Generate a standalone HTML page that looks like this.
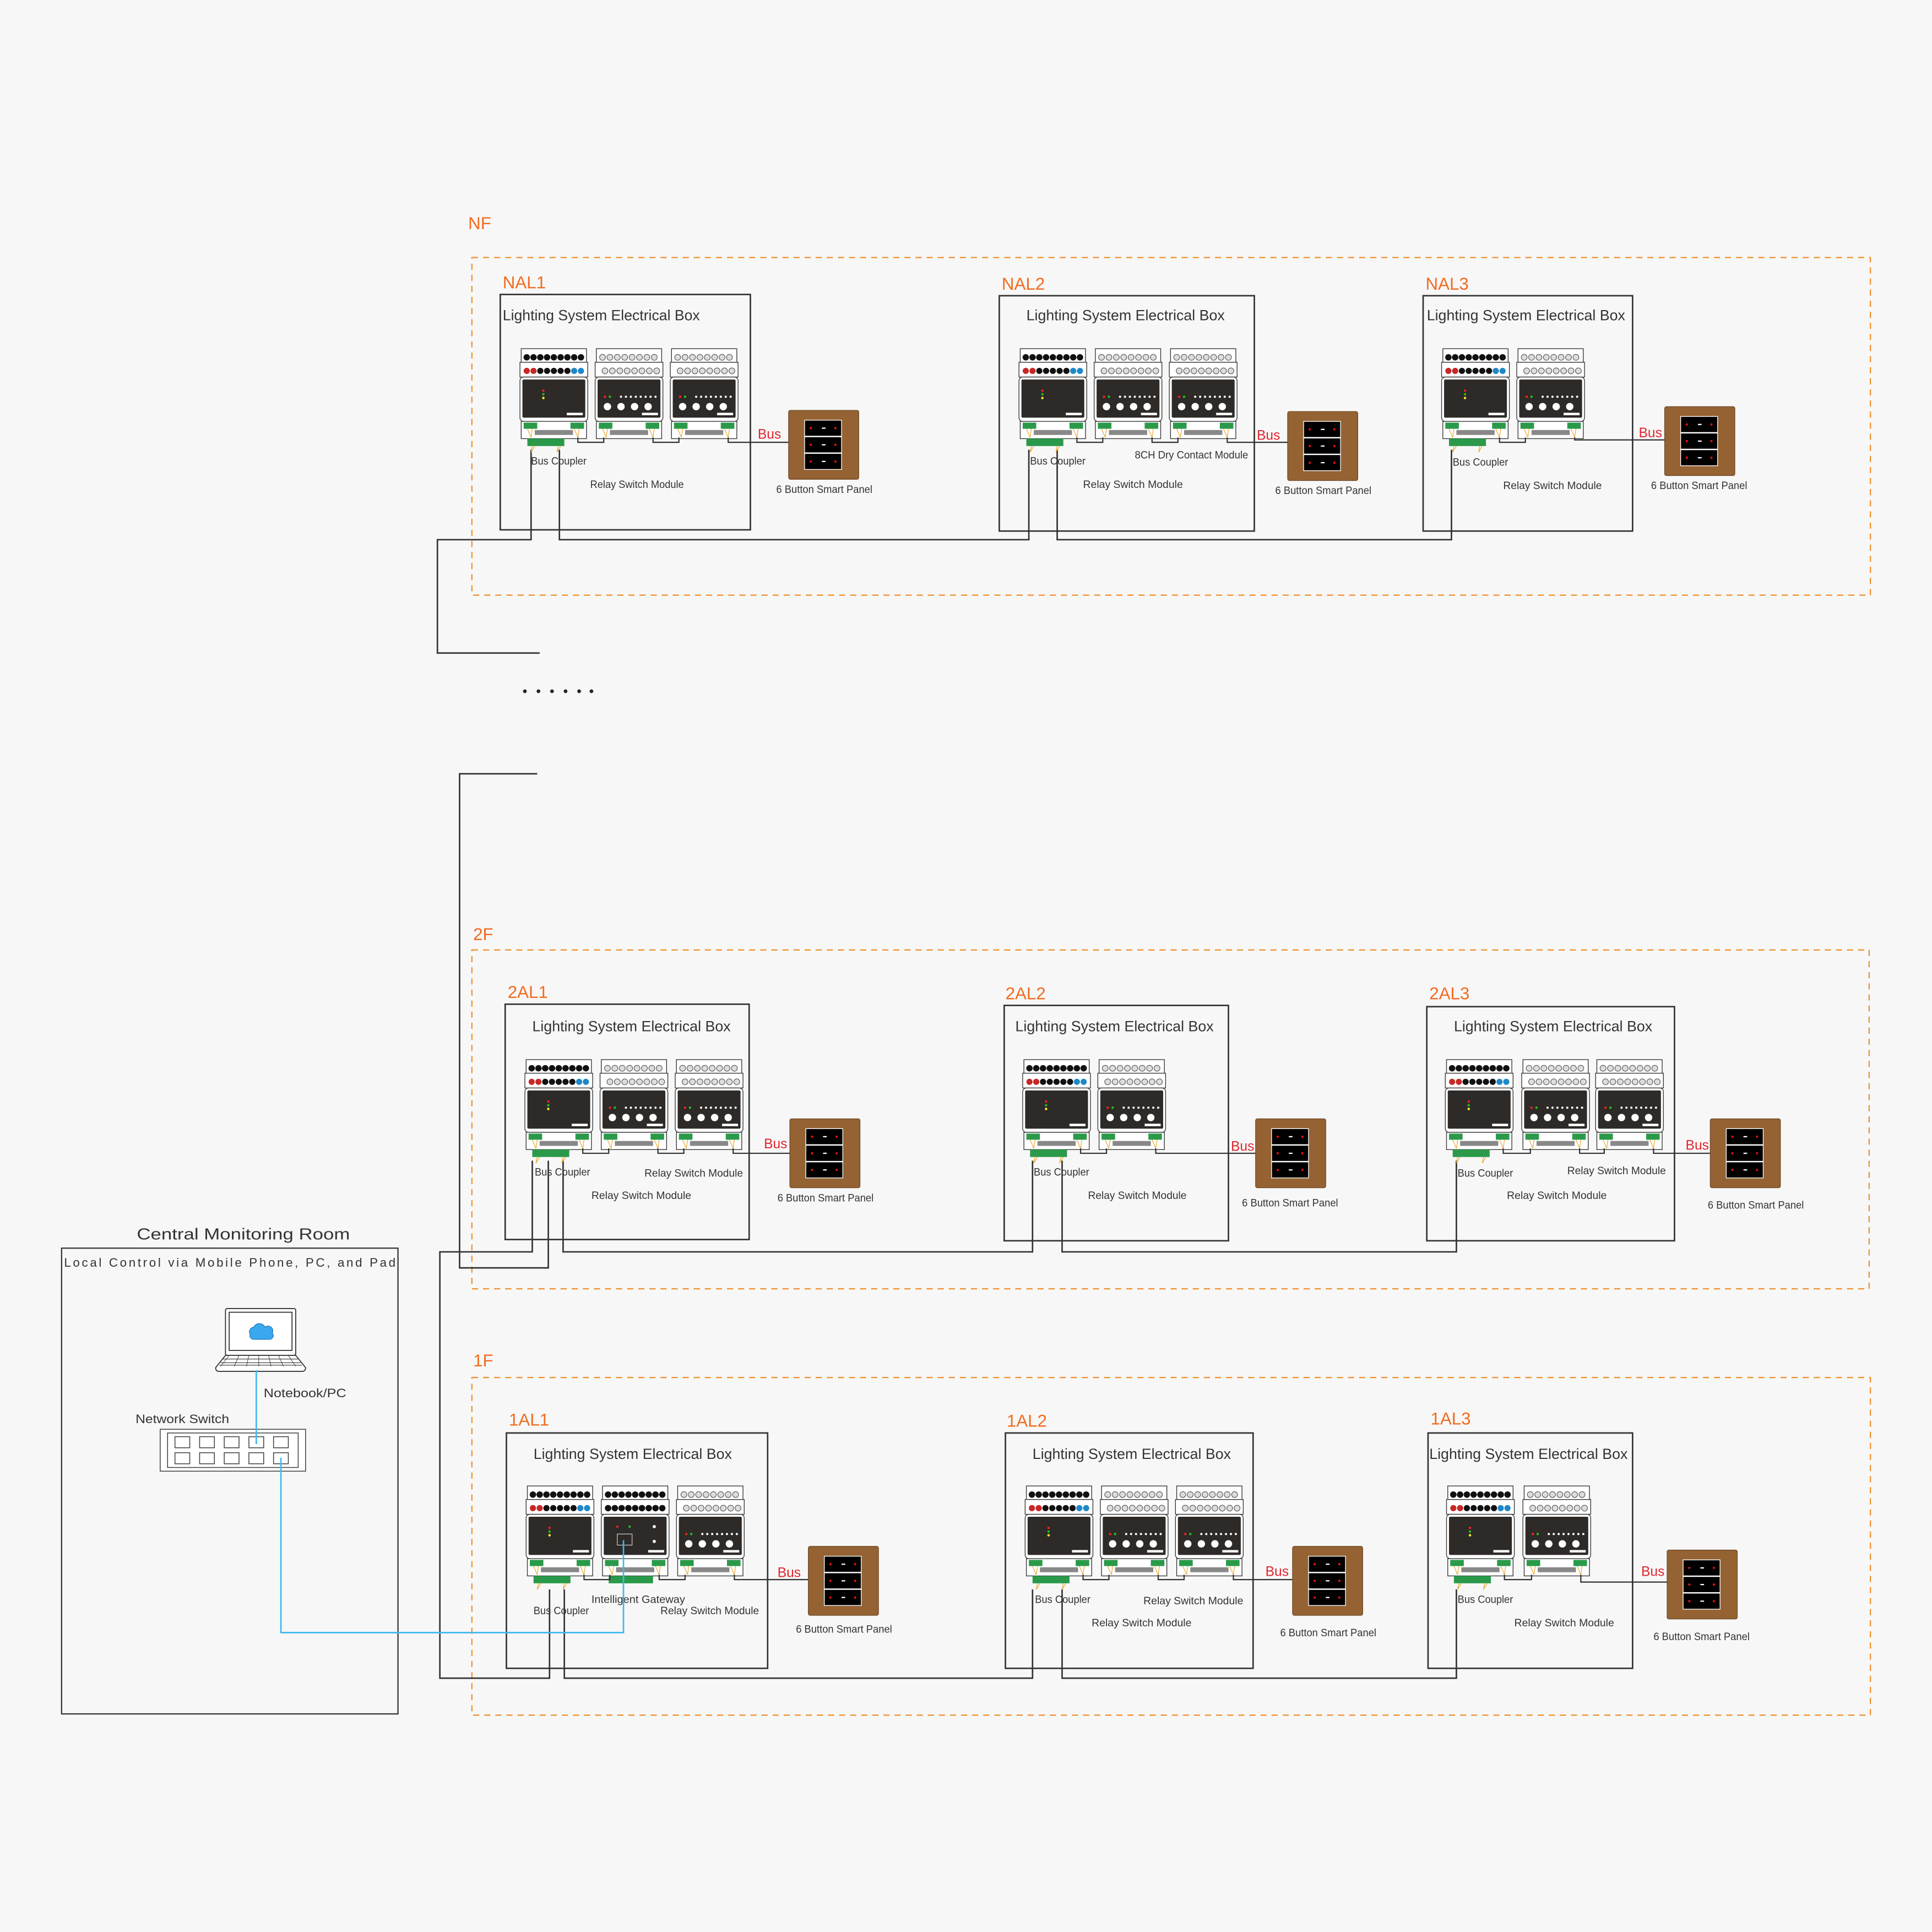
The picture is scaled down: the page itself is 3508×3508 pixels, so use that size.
<!DOCTYPE html>
<html><head><meta charset="utf-8"><style>
html,body{margin:0;padding:0;background:#f7f7f7;}
svg{display:block;}
text{font-family:"Liberation Sans Narrow","Liberation Sans",sans-serif;}
</style></head><body>
<svg width="3508" height="3508" viewBox="0 0 1568 1568" xmlns="http://www.w3.org/2000/svg">
<defs>
<g id="base">
  <rect x="1" y="0" width="53" height="11" fill="#fff" stroke="#333" stroke-width="0.6"/>
  <rect x="0" y="11" width="55" height="12" fill="#fff" stroke="#333" stroke-width="0.6"/>
  <rect x="0" y="23" width="55" height="36" rx="3" fill="#fff" stroke="#333" stroke-width="0.6"/>
  <rect x="2" y="25" width="51" height="31" rx="1" fill="#2d2a28"/>
  <rect x="1" y="59" width="53" height="14" fill="#fff" stroke="#333" stroke-width="0.6"/>
  <rect x="3" y="60" width="11" height="5" fill="#2a9a4a"/>
  <rect x="41" y="60" width="11" height="5" fill="#2a9a4a"/>
  <rect x="12" y="66" width="31" height="4" fill="#888"/>
  <path d="M6,65 L9,72 M10,65 L9,72 M44,65 L47,72 M48,65 L47,72" stroke="#e8a020" stroke-width="0.5"/>
  <rect x="38" y="52" width="13" height="2" fill="#fff"/>
</g>
<g id="cp">
  <use href="#base"/>
  <g fill="#111"><circle cx="5.5" cy="7" r="2.6"/><circle cx="11" cy="7" r="2.6"/><circle cx="16.5" cy="7" r="2.6"/><circle cx="22" cy="7" r="2.6"/><circle cx="27.5" cy="7" r="2.6"/><circle cx="33" cy="7" r="2.6"/><circle cx="38.5" cy="7" r="2.6"/><circle cx="44" cy="7" r="2.6"/><circle cx="49.5" cy="7" r="2.6"/>
  <circle cx="16.5" cy="18" r="2.5"/><circle cx="22" cy="18" r="2.5"/><circle cx="27.5" cy="18" r="2.5"/><circle cx="33" cy="18" r="2.5"/><circle cx="38.5" cy="18" r="2.5"/></g>
  <circle cx="5.5" cy="18" r="2.5" fill="#c62828"/><circle cx="11" cy="18" r="2.5" fill="#c62828"/>
  <circle cx="44" cy="18" r="2.5" fill="#1e88c8"/><circle cx="49.5" cy="18" r="2.5" fill="#1e88c8"/>
  <circle cx="19" cy="34" r="1" fill="#e22"/><circle cx="19" cy="37" r="1" fill="#2b2"/><circle cx="19" cy="40" r="1" fill="#ee2"/>
  <rect x="6" y="73" width="30" height="6" fill="#2a9a4a"/>
  <path d="M10,79 L9,84 M12,79 L9,84 M31,79 L30,84 M33,79 L30,84" stroke="#e8a020" stroke-width="0.5"/>
</g>
<g id="rl">
  <use href="#base"/>
  <g fill="#ddd" stroke="#555" stroke-width="0.5"><circle cx="6" cy="7" r="2.4"/><circle cx="12" cy="7" r="2.4"/><circle cx="18" cy="7" r="2.4"/><circle cx="24" cy="7" r="2.4"/><circle cx="30" cy="7" r="2.4"/><circle cx="36" cy="7" r="2.4"/><circle cx="42" cy="7" r="2.4"/><circle cx="48" cy="7" r="2.4"/>
  <circle cx="8" cy="18" r="2.4"/><circle cx="14" cy="18" r="2.4"/><circle cx="20" cy="18" r="2.4"/><circle cx="26" cy="18" r="2.4"/><circle cx="32" cy="18" r="2.4"/><circle cx="38" cy="18" r="2.4"/><circle cx="44" cy="18" r="2.4"/><circle cx="50" cy="18" r="2.4"/></g>
  <circle cx="8" cy="39" r="1" fill="#e22"/><circle cx="12" cy="39" r="1" fill="#2b2"/>
  <g fill="#fff"><circle cx="21" cy="39" r="0.9"/><circle cx="25" cy="39" r="0.9"/><circle cx="29" cy="39" r="0.9"/><circle cx="33" cy="39" r="0.9"/><circle cx="37" cy="39" r="0.9"/><circle cx="41" cy="39" r="0.9"/><circle cx="45" cy="39" r="0.9"/><circle cx="49" cy="39" r="0.9"/>
  <circle cx="10" cy="47" r="3"/><circle cx="21" cy="47" r="3"/><circle cx="32" cy="47" r="3"/><circle cx="43" cy="47" r="3"/></g>
</g>
<g id="gw">
  <use href="#base"/>
  <g fill="#111"><circle cx="5.5" cy="7" r="2.6"/><circle cx="11" cy="7" r="2.6"/><circle cx="16.5" cy="7" r="2.6"/><circle cx="22" cy="7" r="2.6"/><circle cx="27.5" cy="7" r="2.6"/><circle cx="33" cy="7" r="2.6"/><circle cx="38.5" cy="7" r="2.6"/><circle cx="44" cy="7" r="2.6"/><circle cx="49.5" cy="7" r="2.6"/>
  <circle cx="5.5" cy="18" r="2.6"/><circle cx="11" cy="18" r="2.6"/><circle cx="16.5" cy="18" r="2.6"/><circle cx="22" cy="18" r="2.6"/><circle cx="27.5" cy="18" r="2.6"/><circle cx="33" cy="18" r="2.6"/><circle cx="38.5" cy="18" r="2.6"/><circle cx="44" cy="18" r="2.6"/><circle cx="49.5" cy="18" r="2.6"/></g>
  <circle cx="13" cy="33" r="1" fill="#e22"/><circle cx="23" cy="33" r="1" fill="#2b2"/>
  <circle cx="43" cy="33" r="1.3" fill="#fff"/><circle cx="43" cy="45" r="1.3" fill="#fff"/>
  <rect x="13" y="39" width="12" height="9" fill="none" stroke="#ddd" stroke-width="0.5"/>
  <rect x="6" y="73" width="36" height="6" fill="#2a9a4a"/>
</g>
<g id="pn">
  <rect x="0" y="0" width="57" height="56" rx="1.5" fill="#946233" stroke="#6b4422" stroke-width="0.5"/>
  <rect x="13" y="8" width="30" height="13" fill="#000" stroke="#fff" stroke-width="0.6"/>
  <rect x="13" y="21.5" width="30" height="13" fill="#000" stroke="#fff" stroke-width="0.6"/>
  <rect x="13" y="35" width="30" height="13" fill="#000" stroke="#fff" stroke-width="0.6"/>
  <g fill="#e11"><circle cx="18" cy="14.5" r="0.9"/><circle cx="38" cy="14.5" r="0.9"/><circle cx="18" cy="28" r="0.9"/><circle cx="38" cy="28" r="0.9"/><circle cx="18" cy="41.5" r="0.9"/><circle cx="38" cy="41.5" r="0.9"/></g>
  <g fill="#fff"><rect x="27" y="14" width="3" height="1"/><rect x="27" y="27.5" width="3" height="1"/><rect x="27" y="41" width="3" height="1"/></g>
</g>
</defs>

<rect width="1568" height="1568" fill="#f7f7f7"/>

<!-- dashed floors -->
<g fill="none" stroke="#f0902c" stroke-width="1" stroke-dasharray="5,4">
  <rect x="383" y="209" width="1135" height="274"/>
  <rect x="383" y="771" width="1134" height="275"/>
  <rect x="383" y="1118" width="1135" height="274"/>
</g>

<g fill="#f26b1f" font-size="14">
  <text x="380" y="186">NF</text>
  <text x="408" y="234">NAL1</text><text x="813" y="235">NAL2</text><text x="1157" y="235">NAL3</text>
  <text x="384" y="763">2F</text>
  <text x="412" y="810">2AL1</text><text x="816" y="811">2AL2</text><text x="1160" y="811">2AL3</text>
  <text x="384" y="1109">1F</text>
  <text x="413" y="1157">1AL1</text><text x="817" y="1158">1AL2</text><text x="1161" y="1156">1AL3</text>
</g>

<!-- electrical boxes -->
<g fill="none" stroke="#333" stroke-width="1.2">
  <rect x="406" y="239" width="203" height="191"/>
  <rect x="811" y="240" width="207" height="191"/>
  <rect x="1155" y="240" width="170" height="191"/>
  <rect x="410" y="815" width="198" height="191"/>
  <rect x="815" y="816" width="182" height="191"/>
  <rect x="1158" y="817" width="201" height="190"/>
  <rect x="411" y="1163" width="212" height="191"/>
  <rect x="816" y="1163" width="201" height="191"/>
  <rect x="1159" y="1163" width="166" height="191"/>
  <rect x="50" y="1013" width="273" height="378" stroke-width="1"/>
</g>

<g fill="#333" font-size="12">
  <text x="408" y="260" textLength="160" lengthAdjust="spacingAndGlyphs">Lighting System Electrical Box</text>
  <text x="833" y="260" textLength="161" lengthAdjust="spacingAndGlyphs">Lighting System Electrical Box</text>
  <text x="1158" y="260" textLength="161" lengthAdjust="spacingAndGlyphs">Lighting System Electrical Box</text>
  <text x="432" y="837" textLength="161" lengthAdjust="spacingAndGlyphs">Lighting System Electrical Box</text>
  <text x="824" y="837" textLength="161" lengthAdjust="spacingAndGlyphs">Lighting System Electrical Box</text>
  <text x="1180" y="837" textLength="161" lengthAdjust="spacingAndGlyphs">Lighting System Electrical Box</text>
  <text x="433" y="1184" textLength="161" lengthAdjust="spacingAndGlyphs">Lighting System Electrical Box</text>
  <text x="838" y="1184" textLength="161" lengthAdjust="spacingAndGlyphs">Lighting System Electrical Box</text>
  <text x="1160" y="1184" textLength="161" lengthAdjust="spacingAndGlyphs">Lighting System Electrical Box</text>
  <text x="111" y="1006" font-size="13" textLength="173" lengthAdjust="spacingAndGlyphs">Central Monitoring Room</text>
  <text x="52" y="1028" font-size="10" textLength="269" lengthAdjust="spacing">Local Control via Mobile Phone, PC, and Pad</text>
  <text x="214" y="1134" font-size="10" textLength="67" lengthAdjust="spacingAndGlyphs">Notebook/PC</text>
  <text x="110" y="1155" font-size="10" textLength="76" lengthAdjust="spacingAndGlyphs">Network Switch</text>
</g>

<!-- wiring black -->
<g fill="none" stroke="#333" stroke-width="1.2">
  <path d="M431,365 V438 H355 V530 H438"/>
  <path d="M454,365 V438 H835 V365"/>
  <path d="M858,365 V438 H1178 V365"/>
  <path d="M436,628 H373 V1029 H445 V942"/>
  <path d="M432,942 V1016 H357 V1362 H446 V1290"/>
  <path d="M457,942 V1016 H838 V942"/>
  <path d="M862,942 V1016 H1182 V942"/>
  <path d="M458,1290 V1362 H838 V1290"/>
  <path d="M862,1290 V1362 H1182 V1290"/>
</g>

<!-- NF modules -->
<use href="#cp" x="422" y="283"/><use href="#rl" x="483" y="283"/><use href="#rl" x="544" y="283"/>
<use href="#cp" x="827" y="283"/><use href="#rl" x="888" y="283"/><use href="#rl" x="949" y="283"/>
<use href="#cp" x="1170" y="283"/><use href="#rl" x="1231" y="283"/>
<!-- 2F -->
<use href="#cp" x="426" y="860"/><use href="#rl" x="487" y="860"/><use href="#rl" x="548" y="860"/>
<use href="#cp" x="830" y="860"/><use href="#rl" x="891" y="860"/>
<use href="#cp" x="1173" y="860"/><use href="#rl" x="1235" y="860"/><use href="#rl" x="1295" y="860"/>
<!-- 1F -->
<use href="#cp" x="427" y="1206"/><use href="#gw" x="488" y="1206"/><use href="#rl" x="549" y="1206"/>
<use href="#cp" x="832" y="1206"/><use href="#rl" x="893" y="1206"/><use href="#rl" x="954" y="1206"/>
<use href="#cp" x="1174" y="1206"/><use href="#rl" x="1236" y="1206"/>

<!-- bus links between modules and to panel -->
<g fill="none" stroke="#333" stroke-width="1">
  <path d="M469,355 V359 H490 V355 M530,355 V359 H551 V355 M591,355 V359 H640"/>
  <path d="M874,355 V359 H895 V355 M935,355 V359 H956 V355 M996,355 V359 H1045"/>
  <path d="M1217,355 V359 H1238 V355 M1278,355 V357 H1351"/>
  <path d="M473,932 V936 H494 V932 M534,932 V936 H555 V932 M595,932 V936 H641"/>
  <path d="M877,932 V936 H898 V932 M938,932 V936 H1019"/>
  <path d="M1220,932 V936 H1242 V932 M1282,932 V936 H1302 V932 M1342,932 V936 H1388"/>
  <path d="M474,1278 V1282 H495 V1278 M535,1278 V1282 H556 V1278 M596,1278 V1282 H656"/>
  <path d="M879,1278 V1282 H900 V1278 M940,1278 V1282 H961 V1278 M1001,1278 V1282 H1049"/>
  <path d="M1221,1278 V1282 H1243 V1278 M1283,1278 V1284 H1353"/>
</g>

<!-- panels -->
<use href="#pn" x="640" y="333"/><use href="#pn" x="1045" y="334"/><use href="#pn" x="1351" y="330"/>
<use href="#pn" x="641" y="908"/><use href="#pn" x="1019" y="908"/><use href="#pn" x="1388" y="908"/>
<use href="#pn" x="656" y="1255"/><use href="#pn" x="1049" y="1255"/><use href="#pn" x="1353" y="1258"/>

<g fill="#e0262f" font-size="11">
  <text x="615" y="356">Bus</text><text x="1020" y="357">Bus</text><text x="1330" y="355">Bus</text>
  <text x="620" y="932">Bus</text><text x="999" y="934">Bus</text><text x="1368" y="933">Bus</text>
  <text x="631" y="1280">Bus</text><text x="1027" y="1279">Bus</text><text x="1332" y="1279">Bus</text>
</g>

<g fill="#333" font-size="8.5">
  <text x="431" y="377" textLength="45" lengthAdjust="spacingAndGlyphs">Bus Coupler</text>
  <text x="479" y="396" textLength="76" lengthAdjust="spacingAndGlyphs">Relay Switch Module</text>
  <text x="630" y="400" textLength="78" lengthAdjust="spacingAndGlyphs">6 Button Smart Panel</text>
  <text x="836" y="377" textLength="45" lengthAdjust="spacingAndGlyphs">Bus Coupler</text>
  <text x="921" y="372" textLength="92" lengthAdjust="spacingAndGlyphs">8CH Dry Contact Module</text>
  <text x="879" y="396" textLength="81" lengthAdjust="spacingAndGlyphs">Relay Switch Module</text>
  <text x="1035" y="401" textLength="78" lengthAdjust="spacingAndGlyphs">6 Button Smart Panel</text>
  <text x="1179" y="378" textLength="45" lengthAdjust="spacingAndGlyphs">Bus Coupler</text>
  <text x="1220" y="397" textLength="80" lengthAdjust="spacingAndGlyphs">Relay Switch Module</text>
  <text x="1340" y="397" textLength="78" lengthAdjust="spacingAndGlyphs">6 Button Smart Panel</text>

  <text x="434" y="954" textLength="45" lengthAdjust="spacingAndGlyphs">Bus Coupler</text>
  <text x="523" y="955" textLength="80" lengthAdjust="spacingAndGlyphs">Relay Switch Module</text>
  <text x="480" y="973" textLength="81" lengthAdjust="spacingAndGlyphs">Relay Switch Module</text>
  <text x="631" y="975" textLength="78" lengthAdjust="spacingAndGlyphs">6 Button Smart Panel</text>
  <text x="839" y="954" textLength="45" lengthAdjust="spacingAndGlyphs">Bus Coupler</text>
  <text x="883" y="973" textLength="80" lengthAdjust="spacingAndGlyphs">Relay Switch Module</text>
  <text x="1008" y="979" textLength="78" lengthAdjust="spacingAndGlyphs">6 Button Smart Panel</text>
  <text x="1183" y="955" textLength="45" lengthAdjust="spacingAndGlyphs">Bus Coupler</text>
  <text x="1272" y="953" textLength="80" lengthAdjust="spacingAndGlyphs">Relay Switch Module</text>
  <text x="1223" y="973" textLength="81" lengthAdjust="spacingAndGlyphs">Relay Switch Module</text>
  <text x="1386" y="981" textLength="78" lengthAdjust="spacingAndGlyphs">6 Button Smart Panel</text>

  <text x="433" y="1310" textLength="45" lengthAdjust="spacingAndGlyphs">Bus Coupler</text>
  <text x="480" y="1301" textLength="76" lengthAdjust="spacingAndGlyphs">Intelligent Gateway</text>
  <text x="536" y="1310" textLength="80" lengthAdjust="spacingAndGlyphs">Relay Switch Module</text>
  <text x="646" y="1325" textLength="78" lengthAdjust="spacingAndGlyphs">6 Button Smart Panel</text>
  <text x="840" y="1301" textLength="45" lengthAdjust="spacingAndGlyphs">Bus Coupler</text>
  <text x="928" y="1302" textLength="81" lengthAdjust="spacingAndGlyphs">Relay Switch Module</text>
  <text x="886" y="1320" textLength="81" lengthAdjust="spacingAndGlyphs">Relay Switch Module</text>
  <text x="1039" y="1328" textLength="78" lengthAdjust="spacingAndGlyphs">6 Button Smart Panel</text>
  <text x="1183" y="1301" textLength="45" lengthAdjust="spacingAndGlyphs">Bus Coupler</text>
  <text x="1229" y="1320" textLength="81" lengthAdjust="spacingAndGlyphs">Relay Switch Module</text>
  <text x="1342" y="1331" textLength="78" lengthAdjust="spacingAndGlyphs">6 Button Smart Panel</text>
</g>

<!-- dots -->
<g fill="#222"><circle cx="426" cy="561" r="1.5"/><circle cx="437" cy="561" r="1.5"/><circle cx="448" cy="561" r="1.5"/><circle cx="459" cy="561" r="1.5"/><circle cx="470" cy="561" r="1.5"/><circle cx="480" cy="561" r="1.5"/></g>

<!-- laptop -->
<g fill="none" stroke="#333" stroke-width="0.8">
  <rect x="183" y="1062" width="57" height="38" rx="1.5" fill="#fff"/>
  <rect x="186" y="1065" width="51" height="31" fill="#fff"/>
  <path d="M183,1100 L175,1110 Q175,1113 178,1113 H245 Q248,1113 248,1110 L240,1100 Z" fill="#fff"/>
  <path d="M181,1103 H242 M179,1106 H244 M178,1108 H245" stroke-width="0.5"/>
  <path d="M186,1100 L179,1109 M194,1100 L190,1109 M202,1100 L200,1109 M210,1100 L210,1109 M218,1100 L220,1109 M226,1100 L230,1109 M234,1100 L240,1109" stroke-width="0.4"/>
</g>
<path d="M203,1083 a4,4 0 0 1 3,-6 a5,5 0 0 1 9,0 a4,4 0 0 1 6,5 a3,3 0 0 1 -2,5 h-13 a3,3 0 0 1 -3,-4z" fill="#3aa8ee" stroke="#1a6fb0" stroke-width="0.5"/>

<!-- network switch -->
<g fill="none" stroke="#444" stroke-width="0.7">
  <rect x="130" y="1160" width="118" height="34" fill="#fff"/>
  <rect x="136" y="1163" width="106" height="28"/>
  <rect x="142" y="1166" width="12" height="9"/><rect x="162" y="1166" width="12" height="9"/><rect x="182" y="1166" width="12" height="9"/><rect x="202" y="1166" width="12" height="9"/><rect x="222" y="1166" width="12" height="9"/>
  <rect x="142" y="1179" width="12" height="9"/><rect x="162" y="1179" width="12" height="9"/><rect x="182" y="1179" width="12" height="9"/><rect x="202" y="1179" width="12" height="9"/><rect x="222" y="1179" width="12" height="9"/>
</g>

<!-- blue links -->
<g fill="none" stroke="#3fb8ea" stroke-width="1.2">
  <path d="M208,1112 V1172"/>
  <path d="M228,1183 V1325 H506 V1250"/>
</g>
</svg>
</body></html>
